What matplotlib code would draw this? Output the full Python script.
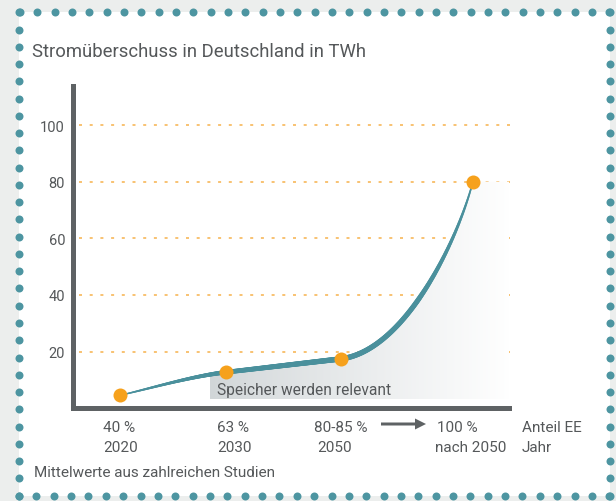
import numpy as np
import matplotlib
matplotlib.use("Agg")
import matplotlib.pyplot as plt
from matplotlib.collections import LineCollection
from matplotlib.patches import Rectangle, FancyArrow, Polygon
from matplotlib.colors import to_rgb

plt.rcParams['font.family'] = ['Roboto', 'DejaVu Sans']

# ---------------- data ----------------
title = "Stromüberschuss in Deutschland in TWh"
share_labels = ['40 %', '63 %', '80-85 %', '100 %']
year_labels = ['2020', '2030', '2050', 'nach 2050']
row_names = ['Anteil EE', 'Jahr']
stage_pos = [0.0, 1.0, 2.08, 3.32]
surplus_twh = [4.5, 12.7, 17.4, 80.0]
y_ticks = [20, 40, 60, 80, 100]
band_text = "Speicher werden relevant"
footnote = "Mittelwerte aus zahlreichen Studien"

# ---------------- style ----------------
W, H = 616, 502
BG = '#eceeed'
TEAL = '#4a909c'
DOT = '#4d95a1'
ORANGE = '#f6a11c'
GRID = '#f7b95e'
AXC = '#5e6264'
TXT = '#55585a'

# curve handles (start handle, end handle) per segment, data units
seg_handles = [((0.33, 2.9), (0.33, 1.5)),
               ((0.36, 1.55), (0.36, 1.55)),
               ((0.60, 3.0), (0.15, 21.4))]
width_knots_u = [0, 1, 2, 2.45, 3]
width_knots_px = [1.2, 4.6, 5.4, 5.0, 1.4]

fig = plt.figure(figsize=(W / 100, H / 100), dpi=100, facecolor=BG)

# overlay in pixel coordinates
ov = fig.add_axes([0, 0, 1, 1], zorder=0)
ov.set_xlim(0, W)
ov.set_ylim(H, 0)
ov.axis('off')
ov.add_patch(Rectangle((19, 13.3), 609.5 - 19, 496.6 - 13.3, facecolor='white',
                       edgecolor='none', zorder=0))
# dotted border
xs_top = np.linspace(20, 609.3, 35)
ys_side = np.linspace(13.3, 496.6, 29)
ms = 8 * 0.72
ov.plot(xs_top, np.full_like(xs_top, 13.3), 'o', color=DOT, ms=ms, mew=0, zorder=2)
ov.plot(np.linspace(19, 609.3, 35), np.full_like(xs_top, 496.6), 'o', color=DOT, ms=ms, mew=0, zorder=2)
ov.plot(np.full_like(ys_side, 19), ys_side, 'o', color=DOT, ms=ms, mew=0, zorder=2)
ov.plot(np.full_like(ys_side, 609.5), ys_side, 'o', color=DOT, ms=ms, mew=0, zorder=2)

# texts
ov.text(31.7, 57.3, title, fontsize=13.3, color=TXT, va='baseline', ha='left')
share_x = [103, 217, 314, 437]
year_x = [103, 217, 317, 435]
for lab, x in zip(share_labels, share_x):
    ov.text(x, 432, lab, fontsize=11, color=TXT, va='baseline', ha='left')
for lab, x in zip(year_labels, year_x):
    ov.text(x, 451.7, lab, fontsize=11, color=TXT, va='baseline', ha='left')
ov.text(521.7, 432, row_names[0], fontsize=11, color=TXT, va='baseline', ha='left')
ov.text(521.7, 451.7, row_names[1], fontsize=11, color=TXT, va='baseline', ha='left')
ov.text(34.3, 477.3, footnote, fontsize=11, color=TXT, va='baseline', ha='left')
ov.add_patch(FancyArrow(381, 425, 45, 0, width=3, head_width=11, head_length=11,
                        length_includes_head=True, color=AXC, lw=0))

# ---------------- main axes ----------------
x_left_px, x_right_px = 73.2, 509.3
y0_px, ytop_px = 409.1, 86.8
ax = fig.add_axes([x_left_px / W, 1 - y0_px / H, (x_right_px - x_left_px) / W,
                   (y0_px - ytop_px) / H], zorder=1)
ax.patch.set_visible(False)
px_per_x = 106.3
px_per_y = 2.83
ax.set_xlim((x_left_px - 120) / px_per_x, (x_right_px - 120) / px_per_x)
ax.set_ylim(0, (y0_px - ytop_px) / px_per_y)
for s in ['top', 'right']:
    ax.spines[s].set_visible(False)
for s in ['left', 'bottom']:
    ax.spines[s].set_linewidth(5 * 0.72)
    ax.spines[s].set_color(AXC)
    ax.spines[s].set_capstyle('projecting')
ax.set_xticks([])
ax.set_yticks(y_ticks)
ax.set_yticklabels([str(v) for v in y_ticks])
ax.tick_params(axis='y', length=0, pad=5.9, labelsize=10.5, labelcolor=TXT)

# gridlines
gx0 = (79 - 120) / px_per_x
gx1 = (513 - 120) / px_per_x
lw_g = 1.7 * 0.72
ax.hlines(y_ticks, gx0, gx1, colors=GRID, lw=lw_g, linestyles=[(0, (3.0 / 1.7, 7.7 / 1.7))],
          clip_on=False, zorder=1)

# curve via cubic bezier segments through data points
P = np.column_stack([stage_pos, surplus_twh])
t = np.linspace(0, 1, 150)[:, None]
curve = []
us = []
for i, (h0, h1) in enumerate(seg_handles):
    p0, p3 = P[i], P[i + 1]
    c1 = p0 + np.array(h0)
    c2 = p3 - np.array(h1)
    b = (1 - t) ** 3 * p0 + 3 * (1 - t) ** 2 * t * c1 + 3 * (1 - t) * t ** 2 * c2 + t ** 3 * p3
    if i > 0:
        b = b[1:]
        uu = i + t[1:, 0]
    else:
        uu = i + t[:, 0]
    curve.append(b)
    us.append(uu)
curve = np.vstack(curve)
us = np.concatenate(us)

# gradient fill under curve
xl = (210 - 120) / px_per_x
xr = (512 - 120) / px_per_x
yb = (y0_px - 400) / px_per_y
ytop_fill = surplus_twh[-1]
yl = np.interp(xl, curve[:, 0], curve[:, 1])
mask = curve[:, 0] > xl
poly_pts = [(xl, yb), (xl, yl)] + [tuple(p) for p in curve[mask]] + [(xr, ytop_fill), (xr, yb)]
poly = Polygon(poly_pts, closed=True, facecolor='none', edgecolor='none')
ax.add_patch(poly)
n = 256
tt = np.linspace(0, 1, n) ** 0.9
c0 = np.array(to_rgb('#d1d6d8'))
grad = c0[None, :] + (1 - c0[None, :]) * tt[:, None]
img = ax.imshow(grad[None, :, :], extent=[xl, xr, yb, ytop_fill], aspect='auto',
                interpolation='bilinear', zorder=1.5, origin='lower')
img.set_clip_path(poly)

ax.text((216.7 - 120) / px_per_x, (y0_px - 395.3) / px_per_y, band_text, fontsize=11.2,
        color=TXT, va='baseline', ha='left', zorder=3)

segs = np.stack([curve[:-1], curve[1:]], axis=1)
umid = 0.5 * (us[:-1] + us[1:])
widths = np.interp(umid, width_knots_u, width_knots_px) * 0.72
lc = LineCollection(segs, linewidths=widths, colors=TEAL, capstyle='round', zorder=4)
ax.add_collection(lc)

ax.plot(stage_pos, surplus_twh, 'o', color=ORANGE, ms=14 * 0.72, mew=0, zorder=5, clip_on=False)

fig.savefig('out.png', dpi=100, facecolor=BG)
